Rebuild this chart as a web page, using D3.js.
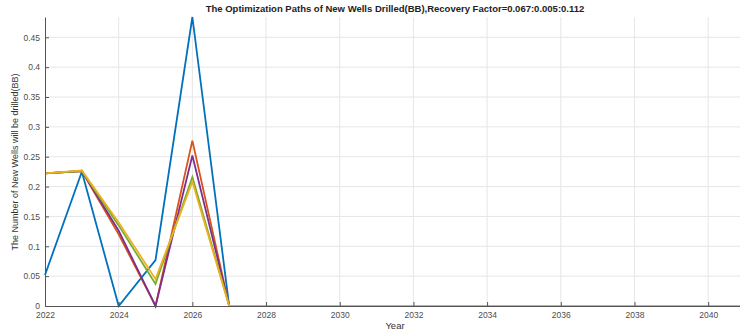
<!DOCTYPE html>
<html>
<head>
<meta charset="utf-8">
<script src="https://cdn.jsdelivr.net/npm/d3@7"></script>
<style>
  body { margin: 0; background: #fff; }
  svg { display: block; font-family: Arial, "Liberation Sans", sans-serif; }
</style>
</head>
<body>
<svg></svg>
<script>
const width = 740, height = 336;
const margin = {top: 17, right: -5, bottom: 30, left: 45};

// years 2022..2041
const years = d3.range(2022, 2042);
const tail = new Array(14).fill(0); // 2028..2041

const blue   = [0.052, 0.225, 0, 0.077, 0.484, 0].concat(tail);
const orange = [0.222, 0.226, 0.12, 0, 0.277, 0].concat(tail);
const purple = [0.222, 0.226, 0.126, 0, 0.252, 0].concat(tail);
const green  = [0.222, 0.226, 0.135, 0.037, 0.216, 0].concat(tail);
const yellow = [0.222, 0.227, 0.14, 0.045, 0.208, 0].concat(tail);

const seriesList = [
  {values: blue,   color: "#0072BD"},
  {values: orange, color: "#D95319"},
  {values: purple, color: "#7E2F8E"},
  {values: green,  color: "#77AC30"},
  {values: yellow, color: "#EDB120"}
];

const yTicks = [0, 0.05, 0.1, 0.15, 0.2, 0.25, 0.3, 0.35, 0.4, 0.45];
const xTicks = d3.range(2022, 2041, 2);

const svg = d3.select("svg").attr("width", width).attr("height", height);

const x = d3.scaleLinear().domain([2022, 2041]).range([margin.left, width - margin.right]);
const y = d3.scaleLinear().domain([0, 0.484]).range([height - margin.bottom, margin.top]);

// grid
svg.append("g").selectAll("line").data(yTicks.slice(1)).enter().append("line")
    .attr("x1", margin.left).attr("x2", width)
    .attr("y1", d => y(d)).attr("y2", d => y(d))
    .attr("stroke", "#e6e6e6").attr("stroke-width", 1);
svg.append("g").selectAll("line").data(xTicks.slice(1)).enter().append("line")
    .attr("x1", d => x(d)).attr("x2", d => x(d))
    .attr("y1", y(0)).attr("y2", margin.top)
    .attr("stroke", "#e6e6e6").attr("stroke-width", 1);

// lines
const line = d3.line().x((d, i) => x(years[i])).y(d => y(d));
svg.append("g").selectAll("path").data(seriesList).enter().append("path")
    .attr("d", d => line(d.values))
    .attr("fill", "none")
    .attr("stroke", d => d.color)
    .attr("stroke-width", 1.8)
    .attr("stroke-linejoin", "miter");

// axes (MATLAB style, ticks inward)
const xAxis = svg.append("g")
    .attr("transform", `translate(0,${y(0)})`)
    .call(d3.axisBottom(x).tickValues(xTicks).tickFormat(d3.format("d")).tickSizeInner(-4).tickSizeOuter(0).tickPadding(6));
const yAxis = svg.append("g")
    .attr("transform", `translate(${margin.left},0)`)
    .call(d3.axisLeft(y).tickValues(yTicks).tickFormat(d => d === 0 ? "0" : String(d)).tickSizeInner(-4).tickSizeOuter(0).tickPadding(5));

[xAxis, yAxis].forEach(a => {
  a.select(".domain").attr("stroke", "#555").attr("stroke-width", 1);
  a.selectAll(".tick line").attr("stroke", "#555");
  a.selectAll("text").attr("fill", "#4d4d4d").style("font-size", "8.5px");
});

// title and labels
svg.append("text")
    .attr("x", (margin.left + width - margin.right) / 2).attr("y", 12)
    .attr("text-anchor", "middle")
    .style("font-size", "9.5px").style("font-weight", "bold").attr("fill", "#222")
    .text("The Optimization Paths of New Wells Drilled(BB),Recovery Factor=0.067:0.005:0.112");

svg.append("text")
    .attr("x", (margin.left + width - margin.right) / 2).attr("y", 329)
    .attr("text-anchor", "middle")
    .style("font-size", "9.5px").attr("fill", "#333")
    .text("Year");

svg.append("text")
    .attr("transform", `translate(18,${162}) rotate(-90)`)
    .attr("text-anchor", "middle")
    .style("font-size", "9px").attr("fill", "#333")
    .text("The Number of New Wells will be drilled(BB)");
</script>
</body>
</html>
